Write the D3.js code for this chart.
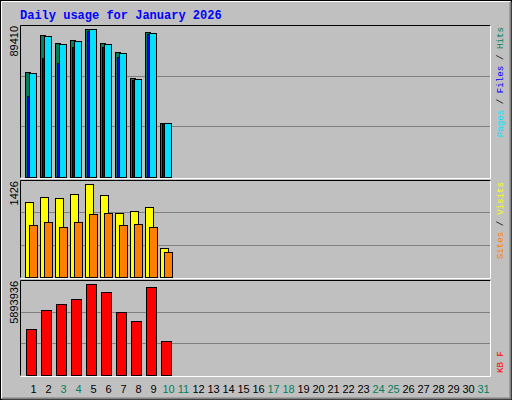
<!DOCTYPE html><html><head><script src="https://cdn.jsdelivr.net/npm/d3@7"></script>
<style>body{margin:0}</style></head><body><svg width="512" height="400"></svg>
<script>
const days=d3.range(1,32);
const weekend=[3,4,10,11,17,18,24,25,31];
const dataDays=[1,2,3,4,5,6,7,8,9,10];
const hits=[61765,83527,78822,80587,87058,78822,73528,58234,85292,31764];
const files=[47646,70000,67058,76470,85881,76470,70587,57058,84116,31176];
const pages=[61176,82939,78234,80000,87058,78234,72940,57646,84705,31764];
const visits=[1102,1176,1161,1220,1367,1205,941,970,1029,426];
const sites=[764,808,735,808,926,941,764,779,735,367];
const kbytes=[2853900,4032700,4405000,4715100,5645800,5149500,3908600,3350300,5459700,2109400];
const maxHits=89410,maxVisits=1426,maxKB=5893936;

const svg=d3.select("svg");
svg.append("rect").attr("width",512).attr("height",400).attr("fill","#c0c0c0");
svg.append("rect").attr("x",0.5).attr("y",0.5).attr("width",511).attr("height",399).attr("fill","none").attr("stroke","#000");
svg.append("path").attr("d","M1.5,398V1.5H510").attr("stroke","#fff").attr("fill","none");
svg.append("path").attr("d","M2,398.5H510.5V2").attr("stroke","#808080").attr("fill","none").attr("stroke-width",2);
svg.append("text").attr("x",20).attr("y",19).text("Daily usage for January 2026")
 .attr("font-family","Liberation Mono").attr("font-weight","bold").attr("font-size",12).attr("fill","#0000ff");

const x=d3.scaleLinear().domain([1,31]).range([25,475]);
function panel(top,bottom,max,label){
  svg.append("rect").attr("x",20.5).attr("y",top+0.5).attr("width",470).attr("height",bottom-top).attr("fill","#c0c0c0");
  svg.append("path").attr("d",`M20.5,${bottom+0.5}V${top+0.5}H490.5`).attr("stroke","#000").attr("fill","none");
  svg.append("path").attr("d",`M20.5,${bottom+1.5}H490.5V${top+0.5}`).attr("stroke","#fff").attr("fill","none");
  const y=d3.scaleLinear().domain([0,max]).range([bottom,top]);
  [1/3,2/3].forEach(f=>svg.append("line").attr("x1",21).attr("x2",490).attr("y1",Math.round(y(max*f))+0.5).attr("y2",Math.round(y(max*f))+0.5).attr("stroke","#808080"));
  svg.append("text").attr("transform",`translate(18,${top+1}) rotate(-90)`).attr("text-anchor","end")
    .attr("font-family","Liberation Sans").attr("font-size",11).text(label);
  return y;
}
function bars(y,vals,dx,w,color){
  svg.append("g").selectAll("rect").data(vals).join("rect")
   .attr("x",(d,i)=>x(dataDays[i])+dx+0.5).attr("y",d=>Math.round(y(d))+0.5)
   .attr("width",w).attr("height",d=>y.range()[0]-Math.round(y(d)))
   .attr("fill",color).attr("stroke","#000");
}
const y1=panel(25,177,maxHits,"89410");
bars(y1,hits,0,5,"#00805c");
bars(y1,files,2,3,"#0000ff");
bars(y1,pages,4,7,"#00e0ff");
const y2=panel(180,277,maxVisits,"1426");
bars(y2,visits,0,8,"#ffff00");
bars(y2,sites,4,8,"#ff8000");
const y3=panel(280,375,maxKB,"5893936");
bars(y3,kbytes,1,10,"#ff0000");

svg.append("g").selectAll("text").data(days).join("text")
 .attr("x",d=>x(d)+8.5).attr("y",393).attr("text-anchor","middle")
 .attr("font-family","Liberation Sans").attr("font-size",11)
 .attr("fill",d=>weekend.includes(d)?"#00805c":"#000").text(d=>d);

function legend(pos,anchor,parts){
  const t=svg.append("text").attr("transform",`translate(503,${pos}) rotate(-90)`).attr("text-anchor",anchor)
   .attr("font-family","Liberation Mono").attr("font-size",9.2);
  parts.forEach(([s,c])=>t.append("tspan").attr("fill",c).text(s));
}
legend(27,"end",[["Pages","#00e0ff"],[" / ","#000"],["Files","#0000ff"],[" / ","#000"],["Hits","#00805c"]]);
legend(182,"end",[["Sites","#ff8000"],[" / ","#000"],["Visits","#ffff00"]]);
legend(373,"start",[["KB F","#ff0000"]]);
</script></body></html>
